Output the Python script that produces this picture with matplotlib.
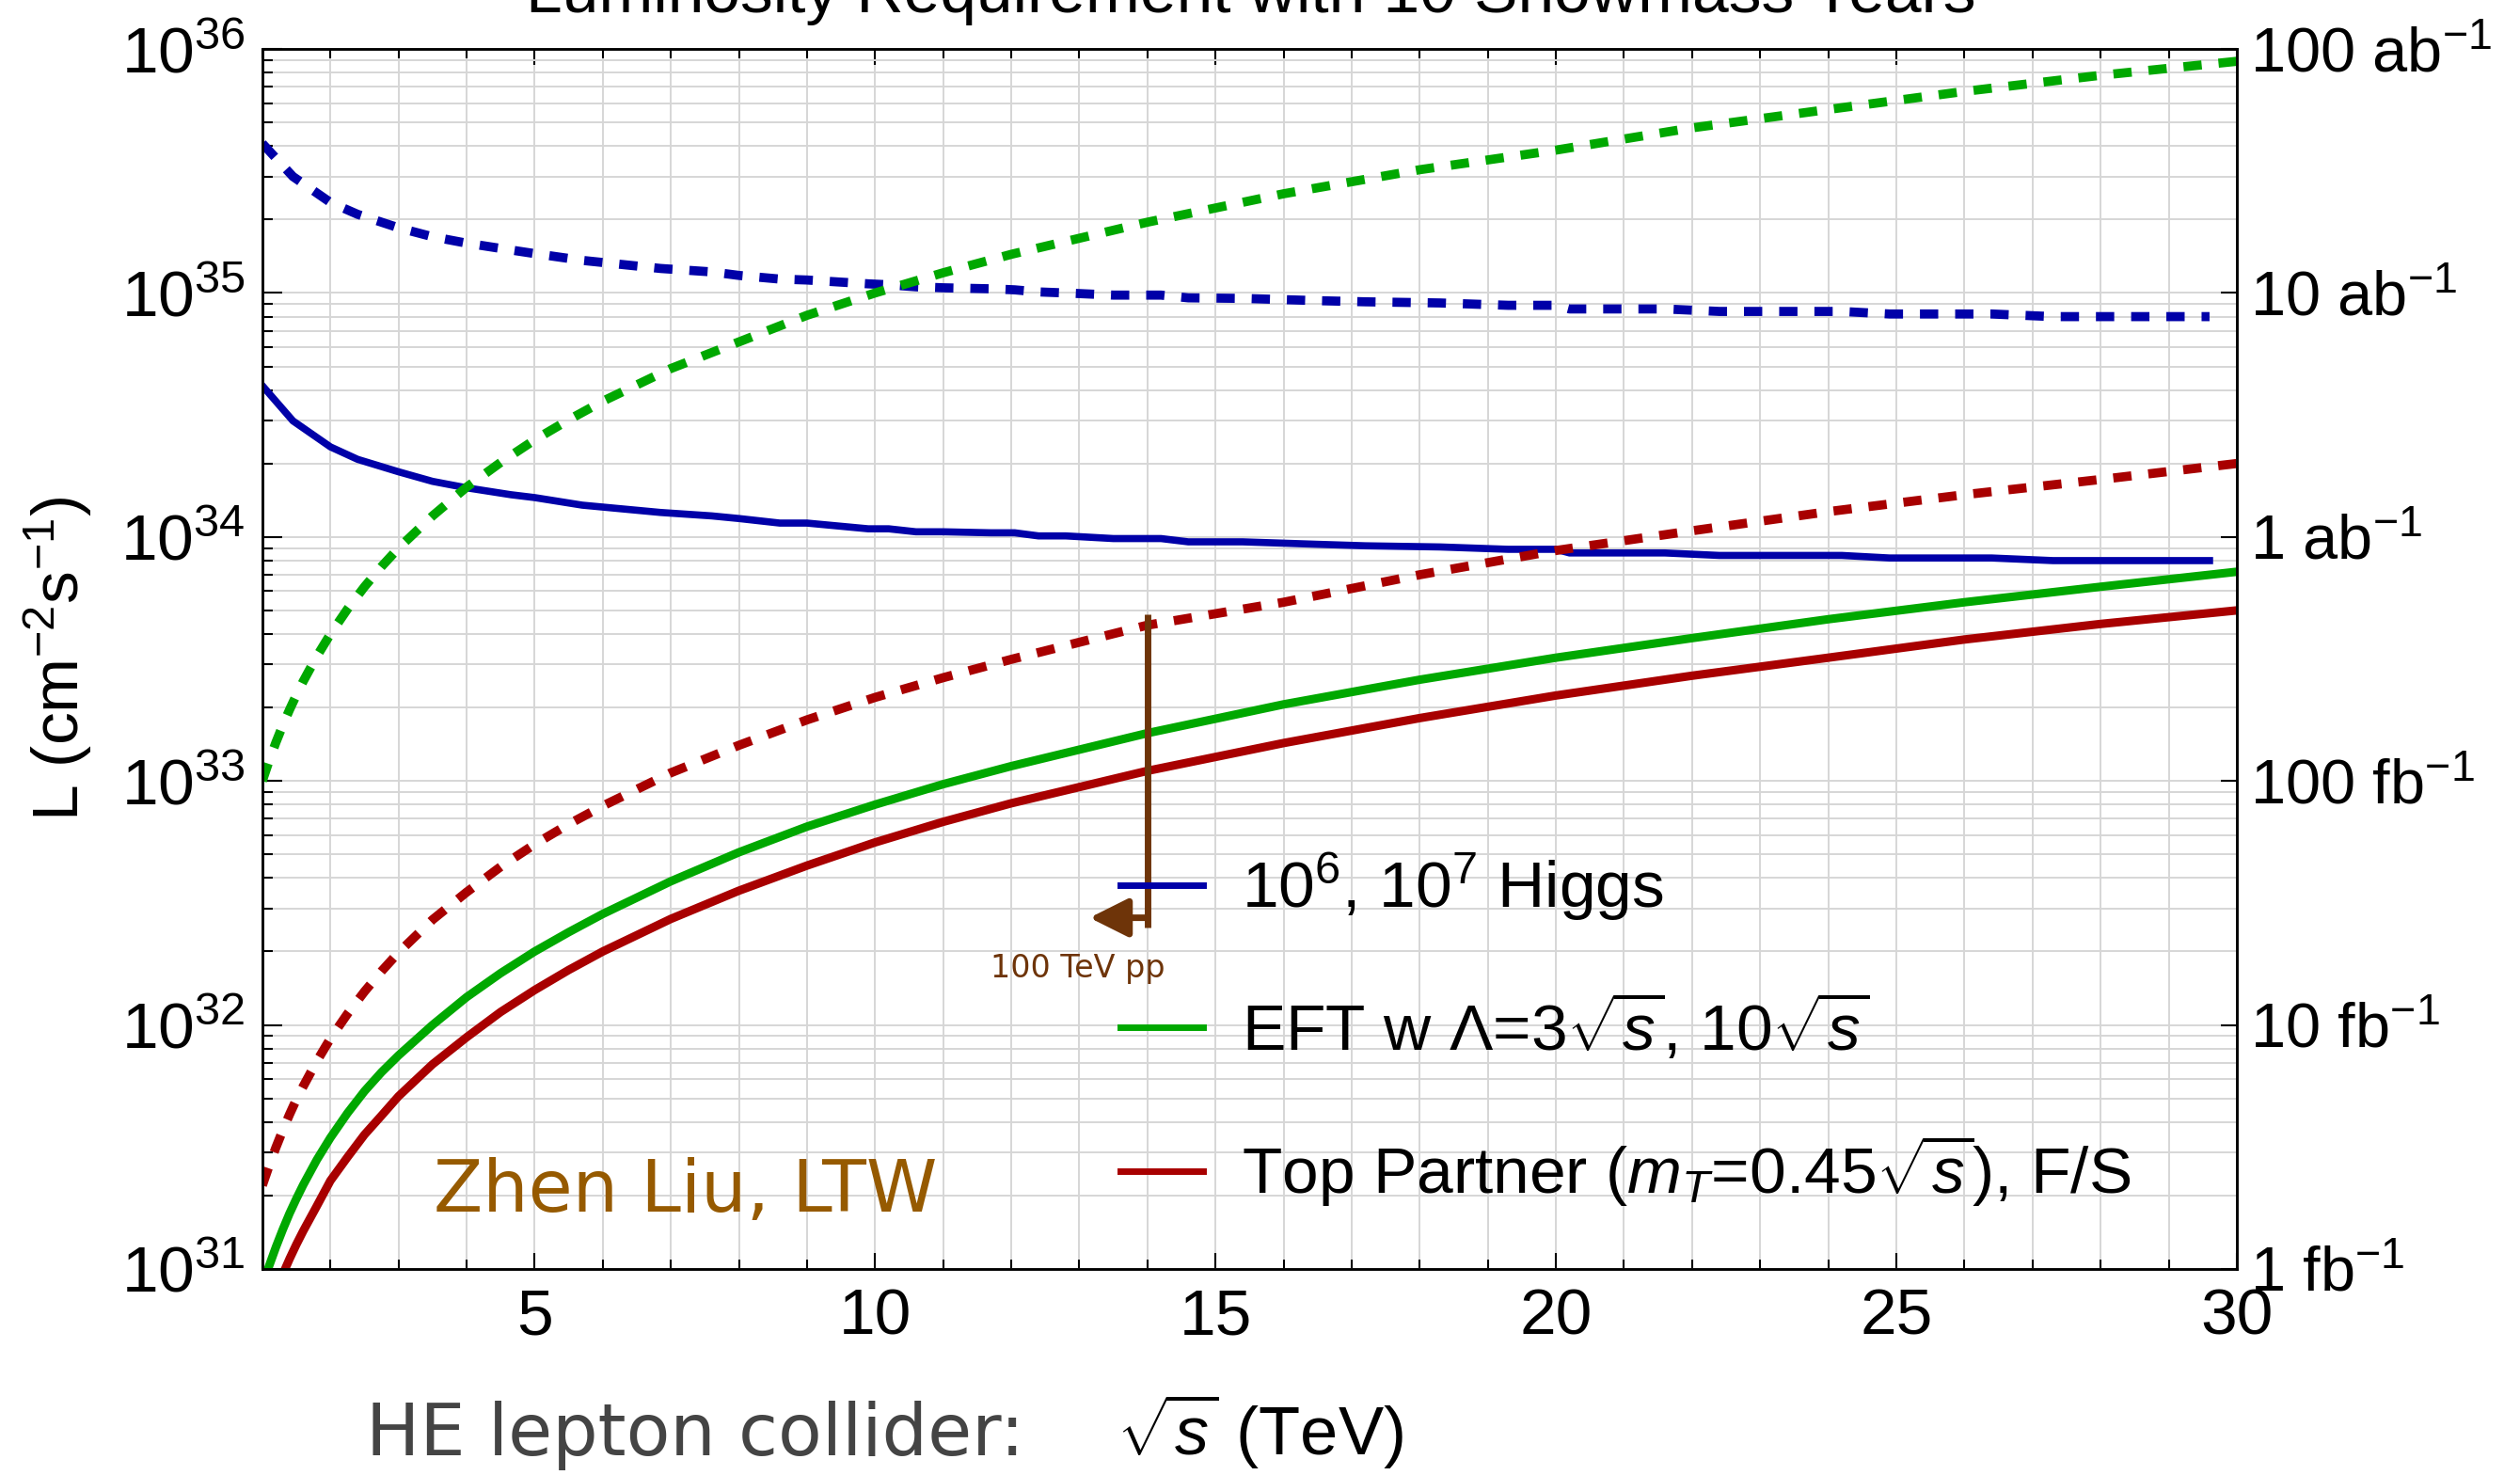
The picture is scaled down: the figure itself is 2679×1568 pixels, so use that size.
import math
import matplotlib
matplotlib.use("Agg")
import matplotlib.pyplot as plt
from matplotlib.lines import Line2D
from matplotlib.ticker import FixedLocator, MultipleLocator, NullLocator, FuncFormatter, NullFormatter

plt.rcParams["font.family"] = ["Liberation Sans", "DejaVu Sans"]
plt.rcParams["mathtext.fontset"] = "custom"
plt.rcParams["mathtext.rm"] = "Liberation Sans"
plt.rcParams["mathtext.it"] = "Liberation Sans:italic"
plt.rcParams["mathtext.bf"] = "Liberation Sans:bold"

# collider energy sqrt(s) in TeV for the EFT / top-partner curves
sqrt_s = [1, 1.1, 1.2, 1.3, 1.4, 1.5, 1.6, 1.8, 2.0, 2.25, 2.5, 2.75, 3, 3.5, 4,
          4.5, 5, 5.5, 6, 7, 8, 9, 10, 11, 12, 14, 16, 18, 20, 22, 24, 26, 28, 30]

# required luminosity (cm^-2 s^-1)
eft_3 = [8.5e30, 1.03e31, 1.23e31, 1.45e31, 1.69e31, 1.94e31, 2.21e31, 2.8e31,
         3.45e31, 4.35e31, 5.35e31, 6.4e31, 7.5e31, 1.0e32, 1.3e32, 1.63e32,
         2.0e32, 2.4e32, 2.85e32, 3.88e32, 5.1e32, 6.5e32, 8.0e32, 9.7e32,
         1.15e33, 1.57e33, 2.06e33, 2.6e33, 3.2e33, 3.85e33, 4.6e33, 5.4e33,
         6.25e33, 7.2e33]
eft_10 = [1.0e33, 1.21e33, 1.44e33, 1.69e33, 1.96e33, 2.25e33, 2.56e33, 3.24e33,
          4.0e33, 5.06e33, 6.25e33, 7.56e33, 9.0e33, 1.22e34, 1.6e34, 2.02e34,
          2.5e34, 3.02e34, 3.6e34, 4.9e34, 6.3e34, 8.1e34, 1.0e35, 1.21e35,
          1.44e35, 1.95e35, 2.55e35, 3.2e35, 3.85e35, 4.75e35, 5.65e35, 6.7e35,
          7.8e35, 8.9e35]
top_fermion = [5.6e30, 6.8e30, 8.1e30, 9.5e30, 1.1e31, 1.26e31, 1.43e31, 1.81e31,
               2.3e31, 2.87e31, 3.55e31, 4.25e31, 5.1e31, 6.9e31, 8.9e31, 1.13e32,
               1.39e32, 1.68e32, 2.0e32, 2.72e32, 3.55e32, 4.5e32, 5.6e32, 6.8e32,
               8.1e32, 1.1e33, 1.43e33, 1.81e33, 2.24e33, 2.7e33, 3.2e33, 3.8e33,
               4.4e33, 5.0e33]
top_scalar = [2.2e31, 2.65e31, 3.15e31, 3.7e31, 4.3e31, 4.95e31, 5.6e31, 7.1e31,
              8.8e31, 1.11e32, 1.37e32, 1.66e32, 1.98e32, 2.7e32, 3.5e32, 4.45e32,
              5.5e32, 6.65e32, 7.9e32, 1.08e33, 1.4e33, 1.78e33, 2.2e33, 2.65e33,
              3.15e33, 4.35e33, 5.4e33, 7.0e33, 8.8e33, 1.06e34, 1.27e34, 1.49e34,
              1.72e34, 2.0e34]

# Higgs counting curves (sampled on their own grid)
higgs_s = [1, 1.45, 2, 2.4, 3, 3.5, 4, 4.65, 5, 5.7, 6.85, 7.6, 8, 8.6, 9, 9.9,
           10.2, 10.6, 11.0, 11.7, 12.05, 12.4, 12.8, 13.5, 14.2, 14.6, 15.4,
           16.5, 17.2, 18.3, 19.3, 20.0, 20.2, 21.6, 22.4, 24.2, 24.9, 26.4, 27.3, 29.6]
higgs_1e6 = [4.17e34, 2.99e34, 2.34e34, 2.08e34, 1.85e34, 1.69e34, 1.59e34, 1.49e34,
             1.45e34, 1.35e34, 1.26e34, 1.22e34, 1.19e34, 1.14e34, 1.14e34, 1.08e34,
             1.08e34, 1.05e34, 1.05e34, 1.04e34, 1.04e34, 1.01e34, 1.01e34, 9.85e33,
             9.85e33, 9.55e33, 9.55e33, 9.33e33, 9.2e33, 9.1e33, 8.9e33, 8.9e33,
             8.6e33, 8.6e33, 8.4e33, 8.4e33, 8.2e33, 8.2e33, 8.0e33, 8.0e33]
higgs_1e7 = [4.1e35, 3.0e35, 2.35e35, 2.1e35, 1.85e35, 1.7e35, 1.6e35, 1.5e35,
             1.45e35, 1.36e35, 1.26e35, 1.22e35, 1.18e35, 1.14e35, 1.13e35, 1.09e35,
             1.08e35, 1.06e35, 1.05e35, 1.04e35, 1.03e35, 1.01e35, 1.0e35, 9.8e34,
             9.8e34, 9.55e34, 9.5e34, 9.3e34, 9.2e34, 9.1e34, 8.9e34, 8.9e34,
             8.6e34, 8.6e34, 8.4e34, 8.4e34, 8.2e34, 8.2e34, 8.0e34, 8.0e34]

# 100 TeV pp reach marker
pp_sqrt_s = 14.0
pp_tip_sqrt_s = 13.15
pp_L_top = 4.8e33
pp_L_bottom = 2.5e32
pp_L_arrow = 2.75e32

lumi_ticks = [1e31, 1e32, 1e33, 1e34, 1e35, 1e36]
lumi_labels = ["1 fb$^{-1}$", "10 fb$^{-1}$", "100 fb$^{-1}$",
               "1 ab$^{-1}$", "10 ab$^{-1}$", "100 ab$^{-1}$"]
x_ticks = [5, 10, 15, 20, 25, 30]

BLUE = "#0000a8"
GREEN = "#00a800"
RED = "#a80000"
BROWN = "#6e3409"
DASH = (0, (2.0, 1.85))

fig = plt.figure(figsize=(26.79, 15.68), dpi=100)
ax = fig.add_axes([0.1041, 0.1397, 0.7835, 0.8271])
ax.set_yscale("log")
ax.set_xlim(1, 30)
ax.set_ylim(1e31, 1e36)

ax.plot(higgs_s, higgs_1e6, color=BLUE, lw=5.5)
ax.plot(higgs_s, higgs_1e7, color=BLUE, lw=7, ls=DASH)
ax.plot(sqrt_s, eft_3, color=GREEN, lw=6.5)
ax.plot(sqrt_s, eft_10, color=GREEN, lw=7, ls=DASH)
ax.plot(sqrt_s, top_fermion, color=RED, lw=6.5)
ax.plot(sqrt_s, top_scalar, color=RED, lw=7, ls=DASH)

ax.plot([pp_sqrt_s, pp_sqrt_s], [pp_L_top, pp_L_bottom], color=BROWN, lw=5,
        solid_capstyle="butt")
ax.annotate("", xy=(pp_tip_sqrt_s, pp_L_arrow), xytext=(pp_sqrt_s, pp_L_arrow),
            arrowprops=dict(arrowstyle="-|>,head_length=1.0,head_width=0.5",
                            color=BROWN, lw=5, mutation_scale=25,
                            shrinkA=0, shrinkB=0))
ax.text(12.98, 1.7e32, "100 TeV pp", color=BROWN, fontsize=24,
        family="DejaVu Sans", ha="center", va="center")
ax.text(0.087, 0.063, "Zhen Liu, LTW", color="#965a00", fontsize=55,
        family="DejaVu Sans", transform=ax.transAxes, ha="left", va="center")

# grid and ticks
ax.xaxis.set_major_locator(FixedLocator(x_ticks))
ax.xaxis.set_minor_locator(MultipleLocator(1))
ax.set_xticklabels([str(t) for t in x_ticks])
ax.yaxis.set_major_locator(FixedLocator(lumi_ticks))
ax.yaxis.set_minor_locator(FixedLocator([m * 10.0 ** e for e in range(31, 36)
                                         for m in range(2, 10)]))
ax.yaxis.set_major_formatter(FuncFormatter(lambda v, p: r"$10^{%d}$" % round(math.log10(v))))
ax.yaxis.set_minor_formatter(NullFormatter())
ax.grid(True, which="both", color="#d6d6d6", lw=1.4)
ax.set_axisbelow(True)
ax.tick_params(axis="x", which="both", direction="in", top=True, bottom=True,
               width=1.5, labelsize=50, pad=14)
ax.tick_params(axis="x", which="major", length=12)
ax.tick_params(axis="x", which="minor", length=7)
ax.tick_params(axis="y", which="both", direction="in", left=True, right=False,
               width=1.5, labelsize=50, pad=13)
ax.tick_params(axis="y", which="major", length=15)
ax.tick_params(axis="y", which="minor", length=8)
for sp in ax.spines.values():
    sp.set_linewidth(1.8)

ax2 = ax.twinx()
ax2.set_yscale("log")
ax2.set_ylim(1e31, 1e36)
ax2.yaxis.set_major_locator(FixedLocator(lumi_ticks))
ax2.yaxis.set_minor_locator(NullLocator())
ax2.set_yticklabels(lumi_labels)
ax2.tick_params(axis="y", which="major", direction="in", length=12, width=1.5,
                labelsize=48, pad=10)
for sp in ax2.spines.values():
    sp.set_linewidth(1.8)

handles = [Line2D([], [], color=BLUE, lw=5),
           Line2D([], [], color=GREEN, lw=5),
           Line2D([], [], color=RED, lw=5)]
labels = [r"$10^6$, $10^7$ Higgs",
          r"EFT w $\Lambda$=3$\sqrt{s}$, 10$\sqrt{s}$",
          r"Top Partner ($m_T$=0.45$\sqrt{s}$), F/S"]
ax.legend(handles, labels, loc="center left", bbox_to_anchor=(0.4345, 0.196),
          frameon=False, fontsize=50, handlelength=1.27, handletextpad=0.59,
          labelspacing=1.07, borderpad=0, borderaxespad=0)

fig.text(0.4965, 0.9917, "Luminosity Requirement with 10 Snowmass Years",
         ha="center", va="baseline", fontsize=50)
fig.text(0.0231, 0.5536, r"L (cm$^{-2}$s$^{-1}$)", rotation=90,
         ha="center", va="center", fontsize=50)
fig.text(0.1452, 0.0134, "HE lepton collider:", color="#444444",
         family="DejaVu Sans", fontsize=55, ha="left", va="baseline")
fig.text(0.443, 0.0134, r"$\sqrt{s}$ (TeV)", fontsize=52, ha="left",
         va="baseline")

fig.savefig("out.png", dpi=100)
